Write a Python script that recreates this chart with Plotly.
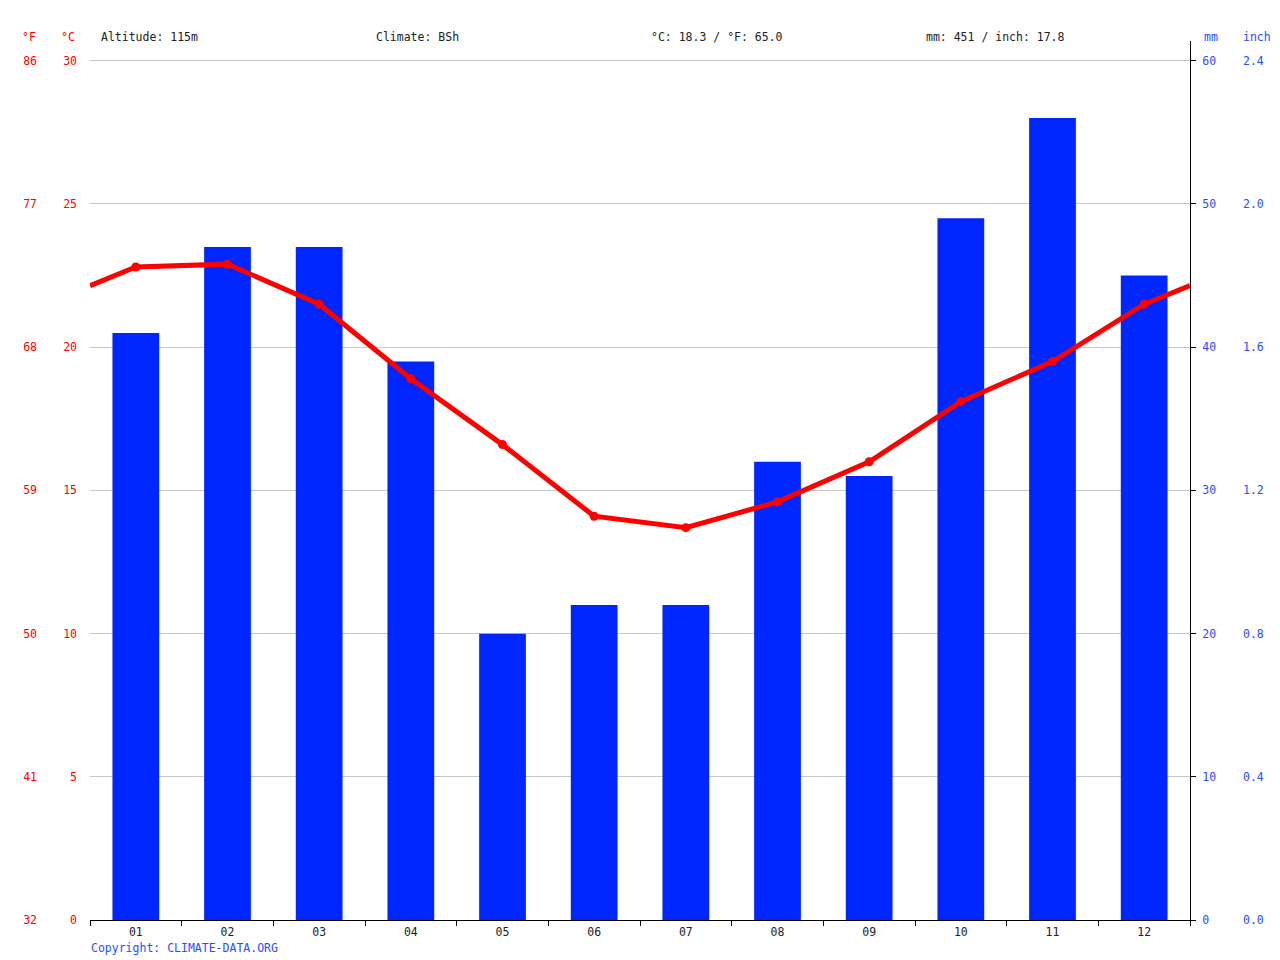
import plotly.graph_objects as go

months = ["01", "02", "03", "04", "05", "06", "07", "08", "09", "10", "11", "12"]
precip_mm = [41, 47, 47, 39, 20, 22, 22, 32, 31, 49, 56, 45]
temp_c = [22.8, 22.9, 21.5, 18.9, 16.6, 14.1, 13.7, 14.6, 16.0, 18.1, 19.5, 21.5]

c_ticks = [0, 5, 10, 15, 20, 25, 30]
f_ticks = [32, 41, 50, 59, 68, 77, 86]
mm_ticks = [0, 10, 20, 30, 40, 50, 60]
inch_ticks = ["0.0", "0.4", "0.8", "1.2", "1.6", "2.0", "2.4"]

header_altitude = "Altitude: 115m"
header_climate = "Climate: BSh"
header_temp = "°C: 18.3 / °F: 65.0"
header_precip = "mm: 451 / inch: 17.8"
copyright_text = "Copyright: CLIMATE-DATA.ORG"

OFF = 8  # page body margin
W, H = 1280 - 2 * OFF, 952

def fx(s):
    return s - OFF

def fy(s):
    # screen y -> figure y (empirical page offset / scale)
    return (s - 7.2) / 0.9934

X0, X1 = fx(90), fx(1190)
Y_BOT, Y_TOP, Y_AXTOP = fy(920), fy(60), fy(40)
RED = "#ff0000"
BLUE = "#0026ff"
LBLUE = "#2a4dff"
FONT = "DejaVu Sans Mono"
FS = 11.5

ext = (Y_BOT - Y_AXTOP) / (Y_BOT - Y_TOP)
mm_max = 60 * ext
c_max = 30 * ext

x_pos = list(range(1, 13))
edge = (temp_c[0] + temp_c[-1]) / 2
line_x = [0.5] + x_pos + [12.5]
line_y = [edge] + temp_c + [edge]
temp_f = [c * 1.8 + 32 for c in temp_c]
precip_in = [m * 0.04 for m in precip_mm]

fig = go.Figure()
fig.add_trace(go.Bar(x=x_pos, y=precip_mm, marker=dict(color=BLUE, line=dict(width=0)),
                     width=0.51, yaxis="y", hoverinfo="skip"))
fig.add_trace(go.Scatter(x=line_x, y=line_y, mode="lines", yaxis="y2",
                         line=dict(color=RED, width=5), hoverinfo="skip"))
fig.add_trace(go.Scatter(x=x_pos, y=temp_c, mode="markers", yaxis="y2",
                         marker=dict(color=RED, size=9), hoverinfo="skip"))
# companion (invisible) series so the °F and inch axes are rendered
fig.add_trace(go.Scatter(x=x_pos, y=temp_f, mode="lines", yaxis="y3",
                         line=dict(color="rgba(0,0,0,0)", width=0), hoverinfo="skip"))
fig.add_trace(go.Scatter(x=x_pos, y=precip_in, mode="lines", yaxis="y4",
                         line=dict(color="rgba(0,0,0,0)", width=0), hoverinfo="skip"))

dom_x = [X0 / W, X1 / W]
dom_y = [(H - Y_BOT) / H, (H - Y_AXTOP) / H]

fig.update_layout(
    width=W, height=H,
    margin=dict(l=0, r=0, t=0, b=0),
    paper_bgcolor="white", plot_bgcolor="white",
    showlegend=False,
    font=dict(family=FONT, size=FS, color="#222"),
    xaxis=dict(domain=dom_x, range=[0.5, 12.5], tickmode="array", tickvals=x_pos,
               ticktext=months, ticks="", showgrid=False, zeroline=False,
               showline=True, linecolor="black", linewidth=1,
               tickfont=dict(color="#222", size=FS), ticklabelstandoff=1,
               minor=dict(tickmode="array", tickvals=[i + 0.5 for i in range(0, 13)],
                          ticks="outside", ticklen=5, tickcolor="black", tickwidth=1,
                          showgrid=False)),
    yaxis=dict(domain=dom_y, range=[0, mm_max], side="right", anchor="x",
               tickmode="array", tickvals=mm_ticks, ticktext=[str(v) for v in mm_ticks],
               showgrid=True, gridcolor="#c8c8c8", gridwidth=1, zeroline=False,
               showline=True, linecolor="black", linewidth=1,
               ticks="outside", ticklen=5, tickcolor="black",
               tickfont=dict(color=LBLUE), ticklabelstandoff=4),
    yaxis2=dict(domain=dom_y, range=[0, c_max], overlaying="y", side="left", anchor="x",
                tickmode="array", tickvals=c_ticks, ticktext=[str(v) for v in c_ticks],
                showgrid=False, zeroline=False, showline=False, ticks="",
                tickfont=dict(color=RED), ticklabelstandoff=12),
    yaxis3=dict(domain=dom_y, range=[32, 32 + 1.8 * c_max], overlaying="y", side="left",
                anchor="free", position=fx(37) / W,
                tickmode="array", tickvals=f_ticks, ticktext=[str(v) for v in f_ticks],
                showgrid=False, zeroline=False, showline=False, ticks="",
                tickfont=dict(color=RED), ticklabelstandoff=0),
    yaxis4=dict(domain=dom_y, range=[0, 0.04 * mm_max], overlaying="y", side="right",
                anchor="free", position=fx(1242) / W,
                tickmode="array", tickvals=[float(t) for t in inch_ticks], ticktext=inch_ticks,
                showgrid=False, zeroline=False, showline=False, ticks="",
                tickfont=dict(color=LBLUE), ticklabelstandoff=0),
)

def ann(text, x, y, color, xanchor="left"):
    fig.add_annotation(text=text, x=min(fx(x) / W, 1.0), y=1 - fy(y) / H,
                       xref="paper", yref="paper",
                       xanchor=xanchor, yanchor="middle", showarrow=False, borderpad=0,
                       font=dict(family=FONT, size=FS, color=color))

ann("°F", 37, 36, RED, "right")
ann("°C", 76, 36, RED, "right")
ann(header_altitude, 100, 36, "#222")
ann(header_climate, 375, 36, "#222")
ann(header_temp, 650, 36, "#222")
ann(header_precip, 925, 36, "#222")
ann("mm", 1203, 36, LBLUE)
ann("inch", 1280, 36, LBLUE, "right")
ann(copyright_text, 90, 948, LBLUE)

fig.write_html("out.html")
